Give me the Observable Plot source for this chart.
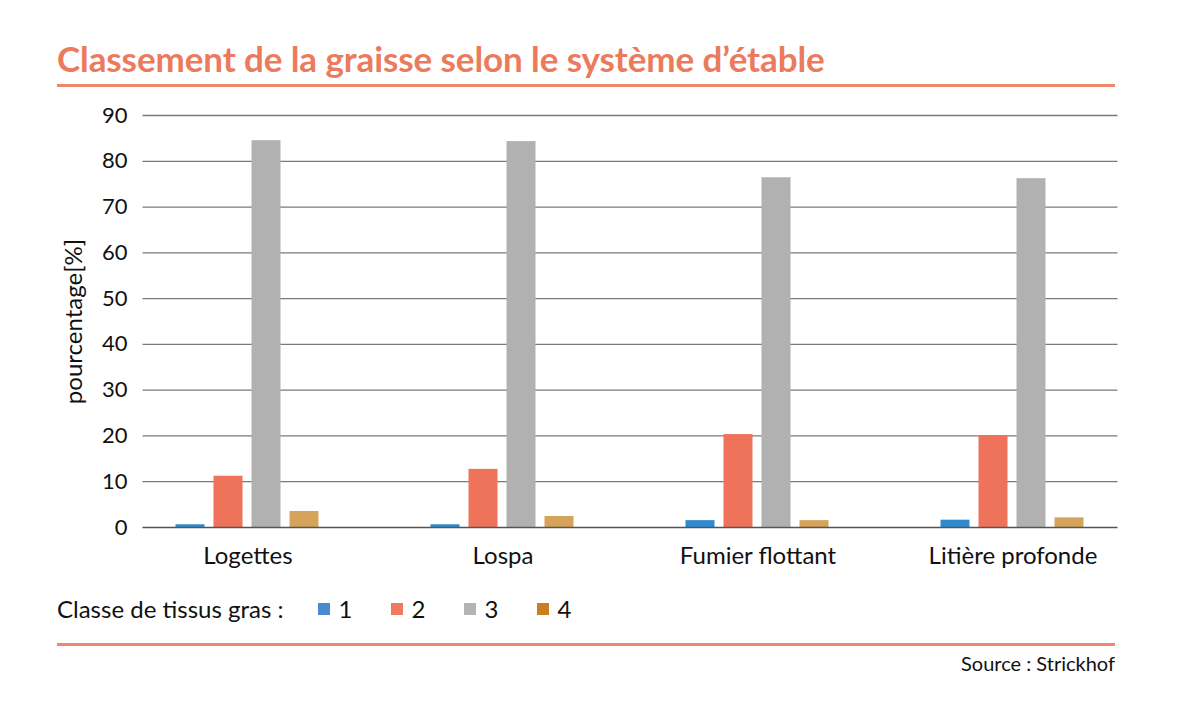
<!DOCTYPE html>
<html>
<head>
<meta charset="utf-8">
<script src="https://cdn.jsdelivr.net/npm/d3@7"></script>
<script src="https://cdn.jsdelivr.net/npm/@observablehq/plot@0.6"></script>
<style>
  html, body { margin: 0; padding: 0; background: #fff; }
  body { width: 1198px; height: 708px; position: relative; font-family: Lato, "Noto Sans", sans-serif; color: #111; overflow: hidden; }
  #title { position: absolute; left: 57px; top: 37px; font-size: 35px; font-weight: 700; color: #EC7A5C; letter-spacing: -0.1px; white-space: nowrap; }
  .rule { position: absolute; left: 57px; width: 1058px; height: 3px; background: #F0876C; }
  #chart { position: absolute; left: 0; top: 95px; }
  #legend { position: absolute; left: 57px; top: 594px; font-size: 24px; display: flex; align-items: center; white-space: nowrap; }
  #legend .item { display: flex; align-items: center; }
  #legend .sw { width: 12px; height: 12px; display: inline-block; margin-right: 8px; }
  #source { position: absolute; right: 83px; top: 651px; font-size: 20px; }
</style>
</head>
<body>
<div id="title">Classement de la graisse selon le système d’étable</div>
<div class="rule" style="top:84px"></div>
<div id="chart"></div>
<div id="legend"></div>
<div class="rule" style="top:643px"></div>
<div id="source">Source : Strickhof</div>
<script>
const groups = ["Logettes", "Lospa", "Fumier flottant", "Litière profonde"];
const classes = ["1", "2", "3", "4"];
const class1 = [0.6, 0.6, 1.5, 1.6];
const class2 = [11.2, 12.7, 20.3, 20.1];
const class3 = [84.5, 84.3, 76.4, 76.2];
const class4 = [3.5, 2.4, 1.5, 2.1];
const colors = ["#2F8BD0", "#EE735A", "#B1B1B1", "#D6A35A"];
const legendColors = ["#4A8AD0", "#EF7A5E", "#B4B4B4", "#C97E22"];
const yTicks = [0, 10, 20, 30, 40, 50, 60, 70, 80, 90];
const legendTitle = "Classe de tissus gras :";
const yLabel = "pourcentage[%]";

const series = [class1, class2, class3, class4];
const data = [];
groups.forEach((g, i) => classes.forEach((c, j) => data.push({group: g, cls: c, value: series[j][i]})));

const grid = [];
groups.forEach(g => yTicks.filter(t => t > 0).forEach(t => grid.push({group: g, v: t})));
const base = groups.map(g => ({group: g, v: 0}));

const first = groups[0], last = groups[groups.length - 1];
const isMid = d => d.group !== first && d.group !== last;

function rules(arr, opts) {
  return [
    Plot.ruleY(arr.filter(d => d.group === first), {y: "v", fx: "group", insetLeft: 22.5, ...opts}),
    Plot.ruleY(arr.filter(isMid), {y: "v", fx: "group", ...opts}),
    Plot.ruleY(arr.filter(d => d.group === last), {y: "v", fx: "group", insetRight: 22.5, ...opts})
  ];
}

const chart = Plot.plot({
  width: 1198,
  height: 495,
  marginTop: 20,
  marginBottom: 63,
  marginLeft: 119.5,
  marginRight: 58.5,
  style: {fontFamily: "Lato, 'Noto Sans', sans-serif", color: "#111", background: "transparent"},
  fx: {domain: groups, padding: 0, label: null, axis: null},
  x: {domain: classes, paddingInner: 0.23, paddingOuter: 1.385, axis: null},
  y: {domain: [0, 90], axis: null},
  color: {domain: classes, range: colors},
  marks: [
    ...rules(grid, {stroke: "#7a7a7a", strokeWidth: 1.3}),
    Plot.barY(data, {fx: "group", x: "cls", y: "value", fill: "cls"}),
    ...rules(base, {stroke: "#555", strokeWidth: 1.6}),
    Plot.axisY({ticks: yTicks, tickSize: 0, tickPadding: 0, dx: 7, fontSize: 22, label: yLabel, labelAnchor: "center", labelOffset: 56, labelArrow: "none"}),
    Plot.axisFx({anchor: "bottom", tickSize: 0, tickPadding: 19, fontSize: 24, label: null})
  ]
});
document.getElementById("chart").appendChild(chart);
chart.querySelectorAll("g[aria-label='y-axis label'] text, g[aria-label='y-axis label']").forEach(el => el.setAttribute("font-size", "24"));

const leg = document.getElementById("legend");
const t = document.createElement("span");
t.textContent = legendTitle;
t.style.marginRight = "35px";
leg.appendChild(t);
classes.forEach((c, i) => {
  const it = document.createElement("span");
  it.className = "item";
  it.style.width = "73px";
  const sw = document.createElement("span");
  sw.className = "sw";
  sw.style.background = legendColors[i];
  it.appendChild(sw);
  const lab = document.createElement("span");
  lab.textContent = c;
  it.appendChild(lab);
  leg.appendChild(it);
});
</script>
</body>
</html>
